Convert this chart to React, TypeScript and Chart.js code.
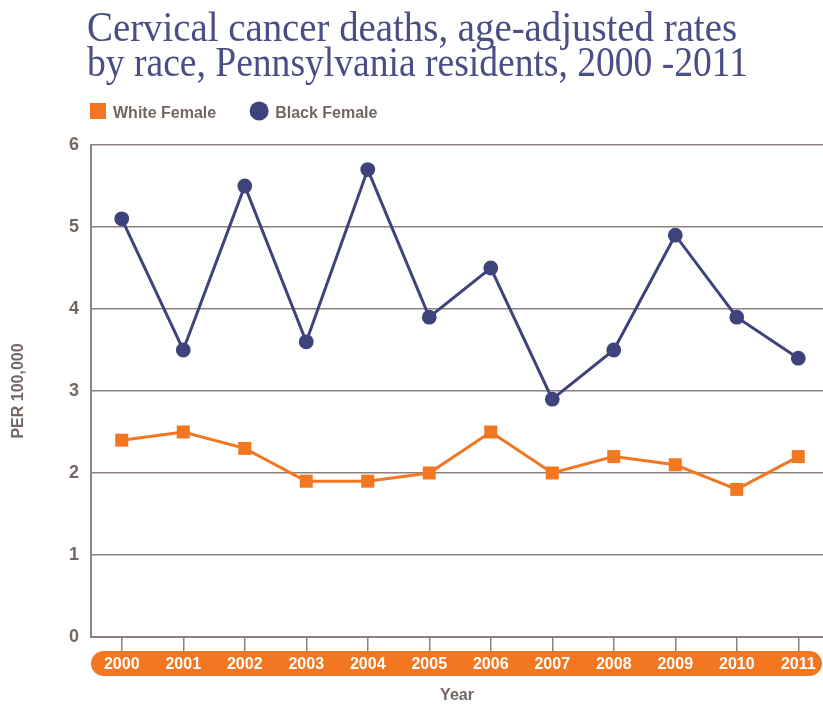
import React, { useEffect, useRef } from "react";
import { Chart, registerables } from "chart.js";

Chart.register(...registerables);

const years = [2000, 2001, 2002, 2003, 2004, 2005, 2006, 2007, 2008, 2009, 2010, 2011];
const whiteFemale = [2.4, 2.5, 2.3, 1.9, 1.9, 2.0, 2.5, 2.0, 2.2, 2.1, 1.8, 2.2];
const blackFemale = [5.1, 3.5, 5.5, 3.6, 5.7, 3.9, 4.5, 2.9, 3.5, 4.9, 3.9, 3.4];
const yTicks = [0, 1, 2, 3, 4, 5, 6];
const titleLines = [
  "Cervical cancer deaths, age-adjusted rates",
  "by race, Pennsylvania residents, 2000 -2011",
];
const titleWidths = [650, 661];
const seriesLabels = ["White Female", "Black Female"];

const ORANGE = "#f37621";
const NAVY = "#3f437b";
const GREY = "#8c817d";
const TEXT = "#736761";
const TITLE = "#4b4e85";
const SANS = '"Liberation Sans", Arial, sans-serif';
const SERIF = '"Liberation Serif", "Times New Roman", serif';

function roundRectPath(ctx: CanvasRenderingContext2D, x: number, y: number, w: number, h: number, r: number) {
  ctx.beginPath();
  ctx.moveTo(x + r, y);
  ctx.lineTo(x + w - r, y);
  ctx.arc(x + w - r, y + r, r, -Math.PI / 2, Math.PI / 2);
  ctx.lineTo(x + r, y + h);
  ctx.arc(x + r, y + r, r, Math.PI / 2, (3 * Math.PI) / 2);
  ctx.closePath();
}

const decor = {
  id: "decor",
  beforeDraw(chart: any) {
    const { ctx, chartArea } = chart;
    ctx.save();
    // orange band behind the year labels
    const top = chartArea.bottom + 14;
    const h = 25;
    ctx.fillStyle = ORANGE;
    roundRectPath(ctx, chartArea.left, top, chartArea.right - 1 - chartArea.left, h, h / 2);
    ctx.fill();

    // title
    ctx.fillStyle = TITLE;
    ctx.font = `42px ${SERIF}`;
    ctx.textAlign = "left";
    ctx.textBaseline = "alphabetic";
    titleLines.forEach((t, i) => ctx.fillText(t, 87, 41 + i * 35, titleWidths[i]));

    // legend
    const ds = chart.data.datasets;
    ctx.font = `bold 16px ${SANS}`;
    let x = 90;
    ds.forEach((d: any) => {
      ctx.fillStyle = d.backgroundColor;
      if (d.pointStyle === "rect") {
        ctx.fillRect(x, 103, 16, 16);
        x += 23;
      } else {
        ctx.beginPath();
        ctx.arc(x + 10, 111, 9.5, 0, Math.PI * 2);
        ctx.fill();
        x += 26;
      }
      ctx.fillStyle = TEXT;
      ctx.fillText(d.label, x, 118);
      x += ctx.measureText(d.label).width + 33;
    });
    ctx.restore();
  },
};

export default function App() {
  const ref = useRef<HTMLCanvasElement | null>(null);

  useEffect(() => {
    const canvas = ref.current;
    if (!canvas) return;
    const chart = new Chart(canvas, {
      type: "line",
      data: {
        datasets: [
          {
            label: seriesLabels[0],
            data: years.map((y, i) => ({ x: y, y: whiteFemale[i] })),
            borderColor: ORANGE,
            backgroundColor: ORANGE,
            borderWidth: 3,
            pointStyle: "rect",
            pointRadius: 9.2,
            pointHoverRadius: 9.2,
            pointBorderWidth: 0,
            tension: 0,
          },
          {
            label: seriesLabels[1],
            data: years.map((y, i) => ({ x: y, y: blackFemale[i] })),
            borderColor: NAVY,
            backgroundColor: NAVY,
            borderWidth: 3,
            pointStyle: "circle",
            pointRadius: 7.4,
            pointHoverRadius: 7.4,
            pointBorderWidth: 0,
            tension: 0,
          },
        ],
      },
      options: {
        responsive: false,
        animation: false,
        devicePixelRatio: 1,
        layout: { autoPadding: false, padding: { top: 145, left: 0, right: 0, bottom: 0 } },
        plugins: {
          legend: { display: false },
          title: { display: false },
          tooltip: { enabled: false },
        },
        scales: {
          x: {
            type: "linear",
            min: 1999.5,
            max: 2011.402,
            afterBuildTicks: (scale: any) => {
              scale.ticks = years.map((v) => ({ value: v }));
            },
            afterFit: (scale: any) => {
              scale.height = 67;
              scale.paddingRight = 0;
              scale.paddingLeft = 0;
            },
            grid: {
              drawOnChartArea: false,
              drawTicks: true,
              tickLength: 14,
              color: GREY,
              lineWidth: 1.5,
            },
            border: { display: true, color: GREY, width: 2 },
            ticks: {
              color: "#ffffff",
              padding: 4,
              font: { family: SANS, size: 16, weight: "bold" },
              callback: (v: any) => String(v),
              maxRotation: 0,
              autoSkip: false,
            },
            title: {
              display: true,
              text: "Year",
              color: TEXT,
              font: { family: SANS, size: 16, weight: "bold", lineHeight: 1 },
              padding: { top: 0, bottom: 0 },
            },
          },
          y: {
            min: 0,
            max: 6,
            afterBuildTicks: (scale: any) => {
              scale.ticks = yTicks.map((v) => ({ value: v }));
            },
            afterFit: (scale: any) => {
              scale.width = 91;
            },
            grid: {
              color: GREY,
              lineWidth: 1.5,
              drawTicks: false,
            },
            border: { display: true, color: GREY, width: 2 },
            ticks: {
              color: TEXT,
              padding: 12,
              font: { family: SANS, size: 18, weight: "bold" },
            },
            title: {
              display: true,
              text: "PER 100,000",
              color: TEXT,
              font: { family: SANS, size: 16, weight: "bold" },
              padding: { top: 9, bottom: 0 },
            },
          },
        },
      },
      plugins: [decor],
    } as any);
    return () => chart.destroy();
  }, []);

  return (
    <div style={{ position: "absolute", left: 0, top: 0, width: 823, height: 704, background: "#ffffff" }}>
      <canvas ref={ref} width={823} height={704} style={{ width: 823, height: 704, display: "block" }} />
    </div>
  );
}
